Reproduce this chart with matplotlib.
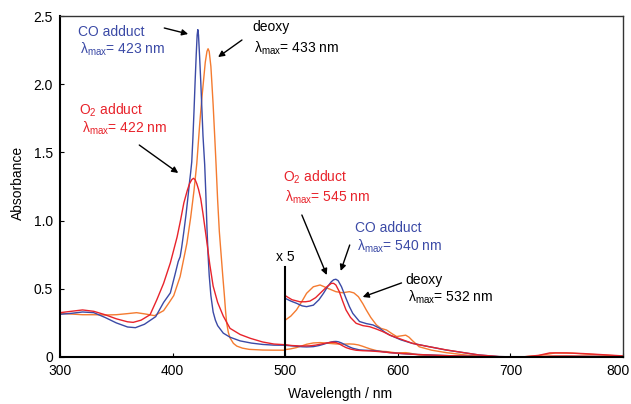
import numpy as np
import matplotlib
matplotlib.use("Agg")
import matplotlib.pyplot as plt
import matplotlib.transforms as mtransforms

plt.rcParams['font.family'] = ['Liberation Sans', 'DejaVu Sans']
plt.rcParams['font.size'] = 10

# ---------- data (absorbance) ----------
# Soret region, 300-500 nm (raw absorbance)
co_sor_wl = [300, 310, 320, 330, 340, 350, 360, 367, 375, 385, 392, 398, 402, 405, 406.7, 408, 410, 412, 414, 415, 416, 417,
             418, 419, 420, 421, 421.8, 422.4, 423, 424, 425, 426, 427, 428.5, 429.5, 430.5, 431.5, 432.5, 434, 436, 438,
             440, 445, 451, 460, 470, 480, 490, 500]
co_sor_abs = [0.313, 0.32, 0.33, 0.325, 0.29, 0.25, 0.22, 0.215, 0.24, 0.296, 0.40, 0.47, 0.60, 0.70, 0.735, 0.80, 0.92, 1.05, 1.20, 1.28, 1.35, 1.43,
              1.60, 1.80, 2.02, 2.22, 2.36, 2.40, 2.36, 2.20, 2.02, 1.82, 1.62, 1.41, 1.20, 0.95, 0.75, 0.60, 0.45, 0.33, 0.27,
              0.23, 0.175, 0.145, 0.118, 0.102, 0.092, 0.087, 0.086]

o2_sor_wl = [300, 310, 320, 330, 340, 350, 360, 365, 372, 380, 386, 392, 398, 404, 407, 410, 413, 415, 417, 418.5, 420, 421.5,
             423, 425, 427, 430, 433, 436, 440, 445, 451, 460, 469, 480, 490, 500]
o2_sor_abs = [0.325, 0.335, 0.345, 0.335, 0.31, 0.28, 0.258, 0.254, 0.27, 0.31, 0.42, 0.54, 0.69, 0.88, 1.00, 1.13, 1.22, 1.27, 1.30, 1.31, 1.30, 1.27,
              1.23, 1.16, 1.05, 0.87, 0.68, 0.52, 0.40, 0.30, 0.21, 0.165, 0.137, 0.11, 0.095, 0.09]

deoxy_sor_wl = [300, 310, 320, 330, 340, 350, 360, 368, 376, 384, 392, 397, 401, 406.7, 412.7, 416, 419, 421.5, 424, 426, 427.4,
                429, 430.5, 431.5, 432.5, 434, 434.8, 436, 437.5, 438.6, 440, 441.5, 443, 444.5, 446, 447, 448, 449.5, 451,
                454, 457, 462, 468, 480, 490, 500]
deoxy_sor_abs = [0.32, 0.315, 0.31, 0.31, 0.308, 0.31, 0.318, 0.325, 0.315, 0.303, 0.34, 0.40, 0.45, 0.59, 0.834, 1.02, 1.22, 1.42, 1.70, 1.90, 2.02,
                 2.16, 2.24, 2.26, 2.24, 2.13, 2.02, 1.85, 1.60, 1.41, 1.15, 0.92, 0.76, 0.60, 0.45, 0.34, 0.25, 0.18, 0.14,
                 0.10, 0.08, 0.065, 0.056, 0.051, 0.05, 0.05]

# Q-band region, 500-800 nm, values as displayed after x5 magnification
co_q_wl = [500, 505, 510, 515, 519, 525, 530, 534, 538, 541, 543, 545, 547, 550, 554, 557, 560, 566, 572, 578, 584, 588, 593, 603, 613,
           625, 643, 660, 672, 690, 710, 730, 750, 770, 800]
co_q_abs5 = [0.43, 0.41, 0.394, 0.375, 0.369, 0.38, 0.42, 0.467, 0.52, 0.552, 0.566, 0.57, 0.56, 0.515, 0.43, 0.37, 0.32, 0.26, 0.245, 0.235, 0.21, 0.185, 0.16, 0.125, 0.10,
             0.08, 0.051, 0.03, 0.015, 0.003, 0.0, 0.002, 0.004, 0.004, 0.003]

o2_q_wl = [500, 506, 513, 518, 522, 527, 531, 537, 541, 543, 545, 548, 551, 554, 558, 563, 569, 575, 581, 587, 593, 603, 613, 625, 643,
           660, 672, 690, 710, 725, 735, 750, 765, 780, 800]
o2_q_abs5 = [0.45, 0.42, 0.405, 0.405, 0.41, 0.435, 0.467, 0.515, 0.54, 0.54, 0.528, 0.48, 0.41, 0.345, 0.29, 0.247, 0.23, 0.222, 0.205, 0.185, 0.16, 0.13, 0.10, 0.08, 0.052,
             0.03, 0.015, 0.003, 0.0, 0.012, 0.03, 0.03, 0.025, 0.018, 0.008]

deoxy_q_wl = [500, 505, 510, 515, 519, 525, 531, 538, 545, 551, 557, 561, 565, 569, 572, 576, 581, 585, 590, 595, 599, 603, 607, 610, 613,
              619, 630, 643, 660, 672, 690, 710, 725, 740, 755, 770, 800]
deoxy_q_abs5 = [0.27, 0.30, 0.345, 0.41, 0.467, 0.515, 0.528, 0.503, 0.479, 0.471, 0.479, 0.47, 0.442, 0.39, 0.345, 0.29, 0.235, 0.21, 0.198, 0.17, 0.15, 0.155, 0.16, 0.145, 0.12,
                0.075, 0.05, 0.032, 0.015, 0.007, 0.002, 0.0, 0.01, 0.03, 0.028, 0.02, 0.006]

magnification = 5
x_ticks = [300, 400, 500, 600, 700, 800]
y_ticks = [0, 0.5, 1.0, 1.5, 2.0, 2.5]
y_tick_labels = ["0", "0.5", "1.0", "1.5", "2.0", "2.5"]

BLUE = '#3b4aa6'
RED = '#e8232b'
ORANGE = '#f47b30'

fig = plt.figure(figsize=(6.31, 4.04), dpi=100)
ax = fig.add_axes([60/631, (404-357)/404, (623-60)/631, (357-16)/404])

series = [
    (deoxy_sor_wl, deoxy_sor_abs, deoxy_q_wl, deoxy_q_abs5, ORANGE),
    (co_sor_wl, co_sor_abs, co_q_wl, co_q_abs5, BLUE),
    (o2_sor_wl, o2_sor_abs, o2_q_wl, o2_q_abs5, RED),
]
for swl, sab, qwl, qab5, col in series:
    ax.plot(swl, sab, color=col, lw=1.0, solid_joinstyle='round')
    ax.plot(qwl, np.array(qab5) / magnification, color=col, lw=1.0, solid_joinstyle='round')
    ax.plot(qwl, qab5, color=col, lw=1.0, solid_joinstyle='round')

# x5 marker
ax.plot([500, 500], [0, 0.66], color='black', lw=1.5)
ax.text(500, 0.73, 'x 5', ha='center', va='center', fontsize=10)

ax.set_xlim(300, 800)
ax.set_ylim(0, 2.5)
ax.set_xticks(x_ticks)
ax.set_xticklabels([str(t) for t in x_ticks])
ax.set_yticks(y_ticks)
ax.set_yticklabels(y_tick_labels)
ax.tick_params(direction='in', length=3, width=0.8, labelsize=10, pad=5)
for s in ['left', 'bottom']:
    ax.spines[s].set_linewidth(1.5)
for s in ['top', 'right']:
    ax.spines[s].set_linewidth(1.0)
    ax.spines[s].set_color('#333333')

# shift the last x tick label a little left so it stays inside the figure
last = ax.get_xticklabels()[-1]
last.set_transform(last.get_transform() + mtransforms.ScaledTranslation(-5/100, 0, fig.dpi_scale_trans))

fig.text(340/631, 1 - 394/404, 'Wavelength / nm', ha='center', va='center', fontsize=10)
fig.text(18/631, 1 - 183/404, 'Absorbance', ha='center', va='center', rotation=90, fontsize=10)

lam = r'$\mathregular{λ_{max}}$'
o2 = r'O$\mathregular{_2}$ adduct'

aprops = dict(arrowstyle='-|>', color='black', lw=1.0, mutation_scale=9, shrinkA=0, shrinkB=0)

def label(x, y1, y2, t1, t2, col):
    ax.text(x, y1, t1, color=col, ha='left', va='center', fontsize=10)
    ax.text(x + 1.8, y2, t2, color=col, ha='left', va='center', fontsize=10)

label(316.4, 2.383, 2.258, 'CO adduct', lam + '= 423 nm', BLUE)
ax.annotate('', xy=(413.8, 2.368), xytext=(392.6, 2.412), arrowprops=aprops)

label(470.5, 2.419, 2.265, 'deoxy', lam + '= 433 nm', 'black')
ax.annotate('', xy=(440.4, 2.199), xytext=(461.6, 2.324), arrowprops=aprops)

label(317.3, 1.811, 1.679, o2, lam + '= 422 nm', RED)
ax.annotate('', xy=(405.0, 1.349), xytext=(370.4, 1.554), arrowprops=aprops)

label(498.0, 1.32, 1.173, o2, lam + '= 545 nm', RED)
ax.annotate('', xy=(536.9, 0.601), xytext=(514.8, 1.041), arrowprops=aprops)

label(561.7, 0.946, 0.814, 'CO adduct', lam + '= 540 nm', BLUE)
ax.annotate('', xy=(549.3, 0.631), xytext=(557.3, 0.821), arrowprops=aprops)

label(606.9, 0.565, 0.44, 'deoxy', lam + '= 532 nm', 'black')
ax.annotate('', xy=(568.8, 0.44), xytext=(603.3, 0.543), arrowprops=aprops)

fig.savefig('out.png', dpi=100)
